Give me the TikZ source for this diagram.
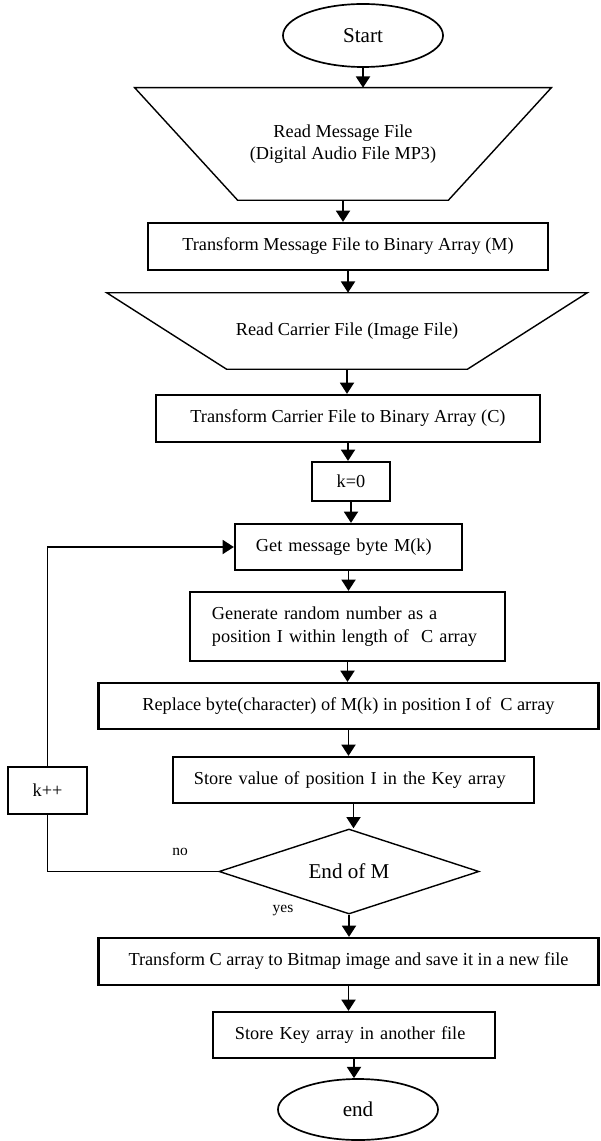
\documentclass[tikz,border=0pt]{standalone}
\usepackage{fontspec}
\setmainfont{Liberation Serif}
\usetikzlibrary{shapes.geometric,arrows.meta}
\tikzset{flow/.style={line width=1.2pt, -{Triangle[width=10pt,length=8pt]}}}
\tikzset{loopline/.style={line width=1.2pt}}
\tikzset{box/.style={draw, line width=1.6pt, inner sep=0pt, font=\fontsize{13}{16}\selectfont}}
\tikzset{proc/.style args={#1 by #2}{box, minimum width=#1cm, minimum height=#2cm}}
\tikzset{term/.style args={#1 by #2}{draw, ellipse, line width=1.2pt, inner sep=0pt, minimum width=#1cm, minimum height=#2cm, font=\fontsize{15}{18}\selectfont}}
\tikzset{io/.style args={#1 by #2}{inner sep=0pt, align=center, minimum width=#1cm, minimum height=#2cm, font=\fontsize{13}{16}\selectfont}}
\tikzset{ioline/.style={line width=1pt, line join=miter}}
\tikzset{decision/.style={draw, diamond, aspect=3, inner sep=0pt, line width=1pt, minimum width=6.5cm, minimum height=2.125cm, font=\fontsize{15}{18}\selectfont}}
\tikzset{note/.style={inner sep=0pt, font=\fontsize{11}{13}\selectfont}}

\begin{document}
\begin{tikzpicture}[x=0.025cm, y=-0.025cm]
\useasboundingbox (0,0) rectangle (600,1141);
\node[term={4 by 1.575}] (start) at (363,35.5) {Start};
\node[io={10.4 by 2.8}] (readmsg) at (343,144) {Read Message File\\(Digital Audio File MP3)};
\draw[ioline] (readmsg.north west) -- (readmsg.north east) -- ([xshift=-2.575cm]readmsg.south east) -- ([xshift=2.575cm]readmsg.south west) -- cycle;
\node[proc={10 by 1.175}] (msgbin) at (348,246.5) {Transform Message File to Binary Array (M)};
\node[io={12 by 1.9}] (readcar) at (347,331) {Read Carrier File (Image File)};
\draw[ioline] (readcar.north west) -- (readcar.north east) -- ([xshift=-3cm]readcar.south east) -- ([xshift=3cm]readcar.south west) -- cycle;
\node[proc={9.6 by 1.175}] (carbin) at (348,418.5) {Transform Carrier File to Binary Array (C)};
\node[proc={1.95 by 0.975}] (kzero) at (351,481.5) {k=0};
\node[proc={5.675 by 1.15}, align=left, text width=4.625cm] (getbyte) at (348.5,547) {Get message byte M(k)};
\node[proc={7.875 by 1.725}, align=left, text width=6.775cm] (randpos) at (347.5,626.5) {Generate random number as a\\position I within length of~ C array};
\node[proc={12.5 by 1.15}] (replace) at (348.5,706) {Replace byte(character) of M(k) in position I of~ C array};
\node[proc={9.025 by 1.15}, align=left, text width=7.975cm] (storekey) at (353.5,780) {Store value of position I in the Key array};
\node[decision] (endm) at (349,871.5) {End of M};
\node[proc={1.975 by 1.175}] (kinc) at (47.5,790.5) {k++};
\node[note] (no) at (180,852) {no};
\node[note] (yes) at (283,911) {yes};
\node[proc={12.5 by 1.175}] (tobmp) at (348.5,961.5) {Transform C array to Bitmap image and save it in a new file};
\node[proc={7.05 by 1.15}, align=left, text width=5.95cm] (keyfile) at (354,1035) {Store Key array in another file};
\node[term={4 by 1.525}] (stop) at (358,1109.5) {end};
% main line
\draw[flow] (start) -- (start |- readmsg.north);
\draw[flow] (readmsg.south) -- (readmsg.south |- msgbin.north);
\draw[flow] (msgbin) -- (msgbin |- readcar.north);
\draw[flow] (readcar.south) -- (readcar.south |- carbin.north);
\draw[flow] (carbin) -- (carbin |- kzero.north);
\draw[flow] (kzero) -- (kzero |- getbyte.north);
\draw[flow] (getbyte) -- (getbyte |- randpos.north);
\draw[flow] (randpos) -- (randpos |- replace.north);
\draw[flow] (replace) -- (replace |- storekey.north);
\draw[flow] (storekey) -- (storekey |- endm.north);
\draw[flow] (endm) -- (endm |- tobmp.north);
\draw[flow] (tobmp) -- (tobmp |- keyfile.north);
\draw[flow] (keyfile) -- (keyfile |- stop.north);
% loop back
\draw[loopline] (endm.west) -| (kinc);
\draw[flow] (kinc) |- (getbyte);
\end{tikzpicture}
\end{document}
